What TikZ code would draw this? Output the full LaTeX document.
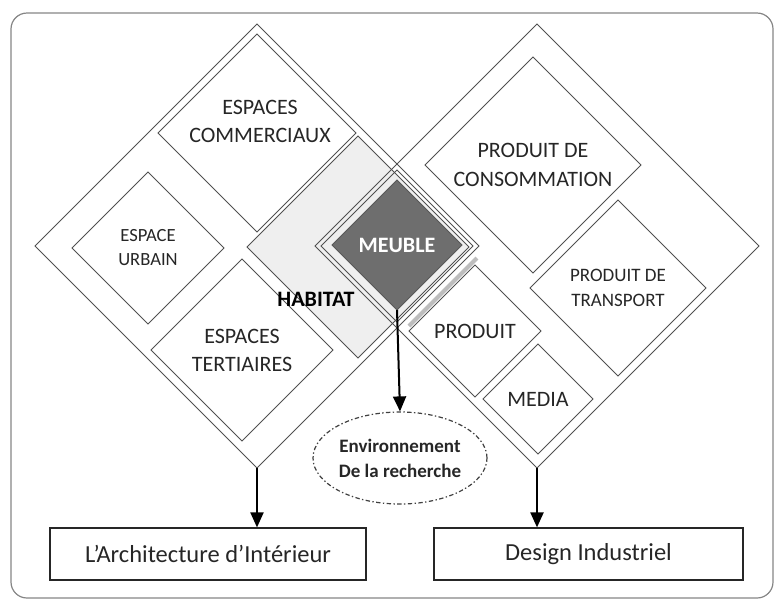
\documentclass[tikz,border=0pt]{standalone}
\usepackage{fontspec}
\setmainfont{Carlito}
\usetikzlibrary{shapes.geometric,arrows.meta}

\definecolor{trait}{HTML}{505050}
\definecolor{texte}{HTML}{262626}
\definecolor{grisclair}{HTML}{EFEFEF}
\definecolor{grisfonce}{HTML}{6E6E6E}
\definecolor{ombre}{HTML}{BDBDBD}

\begin{document}
\begin{tikzpicture}[x=0.5pt, y=-0.5pt,
	losange/.style={diamond, draw=trait, line width=0.5pt, minimum size=#1pt, inner sep=0pt, outer sep=0pt, align=center, text=texte},
	grand/.style={font=\fontsize{11}{14}\selectfont},
	petit/.style={font=\fontsize{9.3}{12}\selectfont},
	boite/.style={draw=texte, line width=0.6pt, minimum height=26pt, inner sep=0pt, font=\fontsize{12.25}{14}\selectfont, text=texte},
	fleche/.style={-{Triangle[width=6.5pt,length=7.5pt]}, line width=1pt, black}]
			\useasboundingbox (0,0) rectangle (775,601);
			\draw[trait!70, line width=0.6pt, rounded corners=8pt] (11,13) rectangle (773,598);

			% habitat sous les deux grands losanges
			\node[losange=111, fill=grisclair] (habitat) at (358,247) {};
			\node[losange=222] (archi) at (257,246) {};
			\node[losange=222] (design) at (537,246) {};

			% cote architecture
			\node[losange=99] (commerciaux) at (257,133) {};
			\node[grand, align=center, text=texte] (lblcommerciaux) at (260,121) {ESPACES\\COMMERCIAUX};
			\node[losange=76, petit] (urbain) at (148,248) {ESPACE\\URBAIN};
			\node[losange=91, grand] (tertiaires) at (242,350) {ESPACES\\TERTIAIRES};

			% cote design
			\node[losange=108, font=\fontsize{11}{14.5}\selectfont] (consommation) at (533,165) {PRODUIT DE\\CONSOMMATION};
			\node[losange=88, font=\fontsize{9.5}{12.5}\selectfont] (transport) at (618,288) {PRODUIT DE\\TRANSPORT};
			\node[losange=66, grand] (produit) at (475,331) {PRODUIT};
			\node[losange=55, grand] (media) at (538,399) {MEDIA};

			% meuble
			\node[losange=76] (cadre) at (397,246) {};
			\draw[ombre, line width=2pt] ([shift={(4,12)}]cadre.east) -- ([shift={(12,4)}]cadre.south);
			\node[losange=65, fill=grisfonce, draw=grisfonce!80!black, text=white, font=\bfseries\fontsize{11}{13}\selectfont] (meuble) at (397,245) {MEUBLE};
			\node[font=\bfseries\fontsize{11}{12}\selectfont, text=black] (lblhabitat) at (316,299) {HABITAT};

			\node[ellipse, draw=trait!80!black, line width=0.6pt, dash pattern=on 2.2pt off 1.2pt on 0.7pt off 1.2pt, minimum width=87pt, minimum height=46pt, inner sep=0pt, align=center, font=\bfseries\fontsize{9.5}{12.5}\selectfont, text=texte] (recherche) at (400,458) {Environnement\\De la recherche};

			\node[boite, minimum width=158pt] (archibox) at (208,554) {L’Architecture d’Intérieur};
			\node[boite, minimum width=154.5pt] (designbox) at (588.5,554) {Design Industriel};

			\draw[fleche] (meuble.south) -- (recherche.north);
			\draw[fleche] (archi.south) -- (archi.south |- archibox.north);
			\draw[fleche] (design.south) -- (design.south |- designbox.north);
\end{tikzpicture}
\end{document}
